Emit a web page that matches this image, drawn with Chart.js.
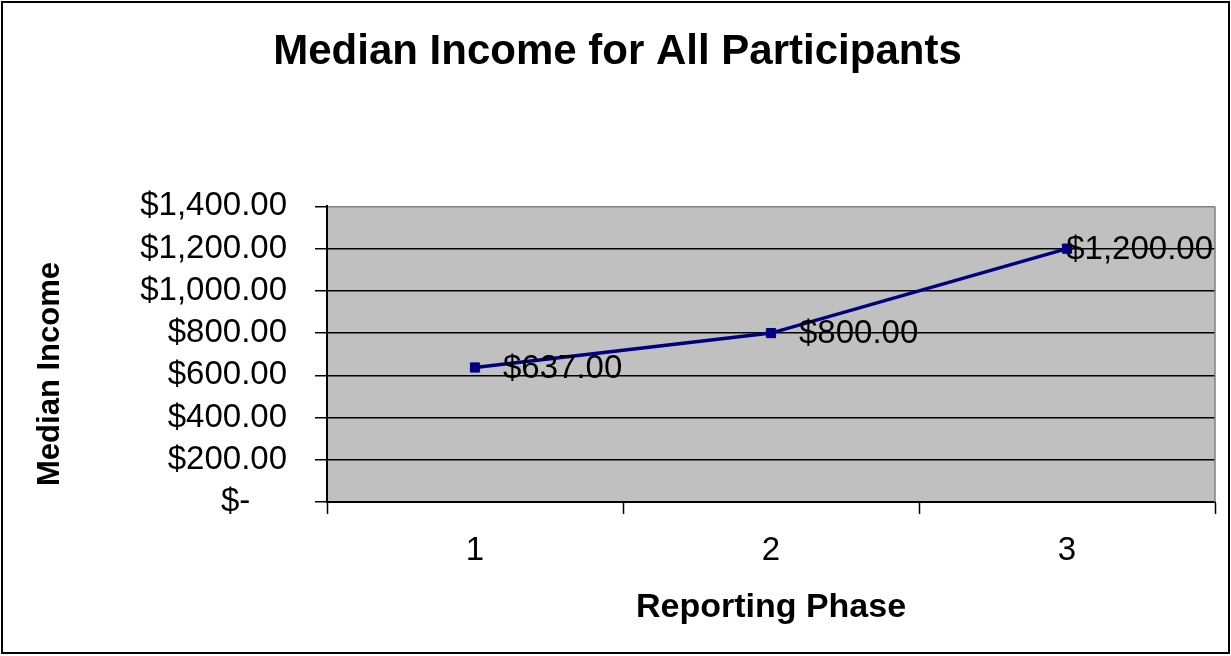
<!DOCTYPE html>
<html>
<head>
<meta charset="utf-8">
<title>Median Income for All Participants</title>
<script src="https://cdn.jsdelivr.net/npm/chart.js@4.4.1/dist/chart.umd.min.js"></script>
<style>
    html, body { margin: 0; padding: 0; background: #ffffff; }
    #wrap { width: 1231px; height: 656px; position: relative; }
</style>
</head>
<body>
<div id="wrap"><canvas id="grafico" width="1231" height="656"></canvas></div>
<script>
// Dados do gráfico
const fases = ['1', '2', '3'];
const rendaMediana = [637, 800, 1200];
const rotulosY = ['$-', '$200.00', '$400.00', '$600.00', '$800.00', '$1,000.00', '$1,200.00', '$1,400.00'];
const rotulosDados = ['$637.00', '$800.00', '$1,200.00'];

const fonte = 'Arial, "Liberation Sans", sans-serif';

// Fundo cinza da área do gráfico + borda direita
const fundoPlot = {
    id: 'fundoPlot',
    beforeDraw(chart) {
        const { ctx, chartArea: a } = chart;
        ctx.save();
        ctx.fillStyle = '#c0c0c0';
        ctx.fillRect(a.left, a.top, a.right - a.left, a.bottom - a.top);
        ctx.restore();
    },
    beforeDatasetsDraw(chart) {
        const { ctx, chartArea: a } = chart;
        ctx.save();
        ctx.strokeStyle = '#808080';
        ctx.lineWidth = 1.5;
        ctx.beginPath();
        ctx.moveTo(a.right, a.top);
        ctx.lineTo(a.right, a.bottom);
        ctx.stroke();
        ctx.restore();
    }
};

// Rótulos de valores ao lado dos pontos + título do eixo Y + moldura
const rotulos = {
    id: 'rotulos',
    afterDatasetsDraw(chart) {
        const { ctx, chartArea: a } = chart;
        const meta = chart.getDatasetMeta(0);
        ctx.save();
        ctx.font = '33px ' + fonte;
        ctx.fillStyle = '#000000';
        ctx.textAlign = 'left';
        ctx.textBaseline = 'middle';
        meta.data.forEach((pt, i) => {
            const texto = rotulosDados[i];
            const w = ctx.measureText(texto).width;
            let x = pt.x + 28;
            if (x + w > a.right - 2) x = a.right - 2 - w;
            ctx.fillText(texto, x, pt.y + 1);
        });
        ctx.restore();
    },
    afterDraw(chart) {
        const { ctx } = chart;
        ctx.save();
        // título do eixo Y
        ctx.translate(50, 374);
        ctx.rotate(-Math.PI / 2);
        ctx.font = 'bold 31px ' + fonte;
        ctx.fillStyle = '#000000';
        ctx.textAlign = 'center';
        ctx.textBaseline = 'middle';
        ctx.fillText('Median Income', 0, 0);
        ctx.restore();

        // moldura externa
        ctx.save();
        ctx.strokeStyle = '#000000';
        ctx.lineWidth = 2;
        ctx.strokeRect(2, 2, 1227, 651);
        ctx.restore();
    }
};

const ctx = document.getElementById('grafico').getContext('2d');
const grafico = new Chart(ctx, {
    type: 'line',
    data: {
        labels: fases,
        datasets: [{
            label: 'Median Income',
            data: rendaMediana,
            borderColor: '#000080',
            backgroundColor: '#000080',
            borderWidth: 3.5,
            pointStyle: 'rect',
            pointRadius: 6.5,
            pointBorderWidth: 1,
            pointBackgroundColor: '#000080',
            pointBorderColor: '#000080',
            tension: 0
        }]
    },
    options: {
        responsive: false,
        animation: false,
        devicePixelRatio: 1,
        layout: {
            padding: { left: 20, right: 16, top: 0, bottom: 0 }
        },
        plugins: {
            legend: { display: false },
            tooltip: { enabled: false },
            title: {
                display: true,
                text: 'Median Income for All Participants',
                color: '#000000',
                font: { family: fonte, size: 42, weight: 'bold', lineHeight: 1.2 },
                padding: { top: 27, bottom: 129 }
            }
        },
        scales: {
            x: {
                offset: true,
                grid: {
                    offset: true,
                    drawOnChartArea: false,
                    drawTicks: true,
                    tickLength: 12,
                    tickColor: '#000000',
                    tickWidth: 1.5
                },
                border: { display: true, color: '#000000', width: 2 },
                ticks: {
                    color: '#000000',
                    font: { family: fonte, size: 33, lineHeight: 1.2 },
                    padding: 17,
                    maxRotation: 0,
                    autoSkip: false
                },
                title: {
                    display: true,
                    text: 'Reporting Phase',
                    color: '#000000',
                    font: { family: fonte, size: 34, weight: 'bold', lineHeight: 1.2 },
                    padding: { top: 0, bottom: 28 }
                },
                afterFit(scale) {
                    scale.height = 154;
                }
            },
            y: {
                min: 0,
                max: 1400,
                grid: {
                    color: (c) => (c.tick && c.tick.value === 1400) ? '#808080' : '#000000',
                    lineWidth: 1.5,
                    drawTicks: true,
                    tickLength: 12,
                    tickColor: '#000000',
                    tickWidth: 1.5
                },
                border: { display: true, color: '#000000', width: 2 },
                ticks: {
                    stepSize: 200,
                    autoSkip: false,
                    color: '#000000',
                    font: { family: fonte, size: 33, lineHeight: 1 },
                    padding: 28,
                    callback: function (valor, indice) {
                        const t = rotulosY[indice];
                        return t === '$-' ? t + '    ' : t;
                    }
                },
                afterFit(scale) {
                    scale.width = 307;
                }
            }
        }
    },
    plugins: [fundoPlot, rotulos]
});
</script>
</body>
</html>
